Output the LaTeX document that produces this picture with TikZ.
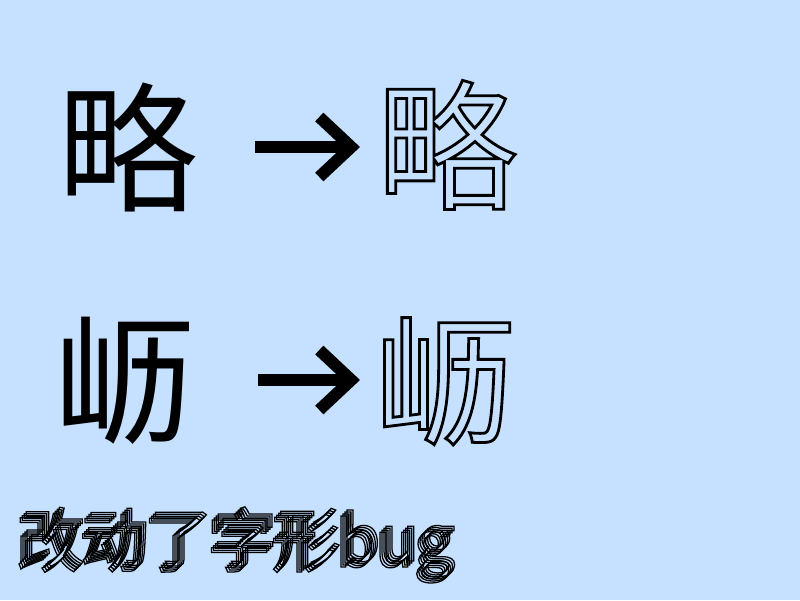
\documentclass[tikz,border=0pt]{standalone}
\usepackage{fontspec}
\newfontfamily\cjk{Noto Sans CJK SC}
\usetikzlibrary{arrows.meta}
\definecolor{paleblue}{RGB}{198,225,255}
\begin{document}
\begin{tikzpicture}[bigchar/.style={font=\cjk\fontsize{100}{100}\selectfont,inner sep=0,anchor=base},
  smallchar/.style={font=\cjk\fontsize{45.5}{45.5}\selectfont,inner sep=0,anchor=base west},
  hollow/.style={execute at begin node={\special{pdf:literal direct 1 Tr #1 w}}},
  pointer/.style={line width=8.5pt,-{Straight Barb[length=0.8cm,width=1.5cm,sharp]}}]
\useasboundingbox (0,0) rectangle (20,-15);
\fill [paleblue] (0,0) rectangle (20,-15);
% top row
\node (lue) at (3.2,-5.025) [bigchar] {略};
\node (luo) at (11.175,-4.975) [bigchar,hollow=2] {略};
\coordinate (s1) at (6.375,-3.675);
\coordinate (t1) at (9.0,-3.675);
\draw [pointer] (s1) -- (t1);
% second row
\node (lie) at (3.125,-10.825) [bigchar] {𫵷};
\node (lio) at (11.125,-10.85) [bigchar,hollow=2] {𫵷};
\coordinate (s2) at (6.45,-9.5);
\coordinate (t2) at (9.0,-9.5);
\draw [pointer] (s2) -- (t2);
% caption
\foreach \k in {0,...,3}
  \node (bug\k) at (0.375+0.05*\k,-14.175+0.05*\k) [smallchar,hollow=0.9] {改动了字形bug};
\end{tikzpicture}
\end{document}
